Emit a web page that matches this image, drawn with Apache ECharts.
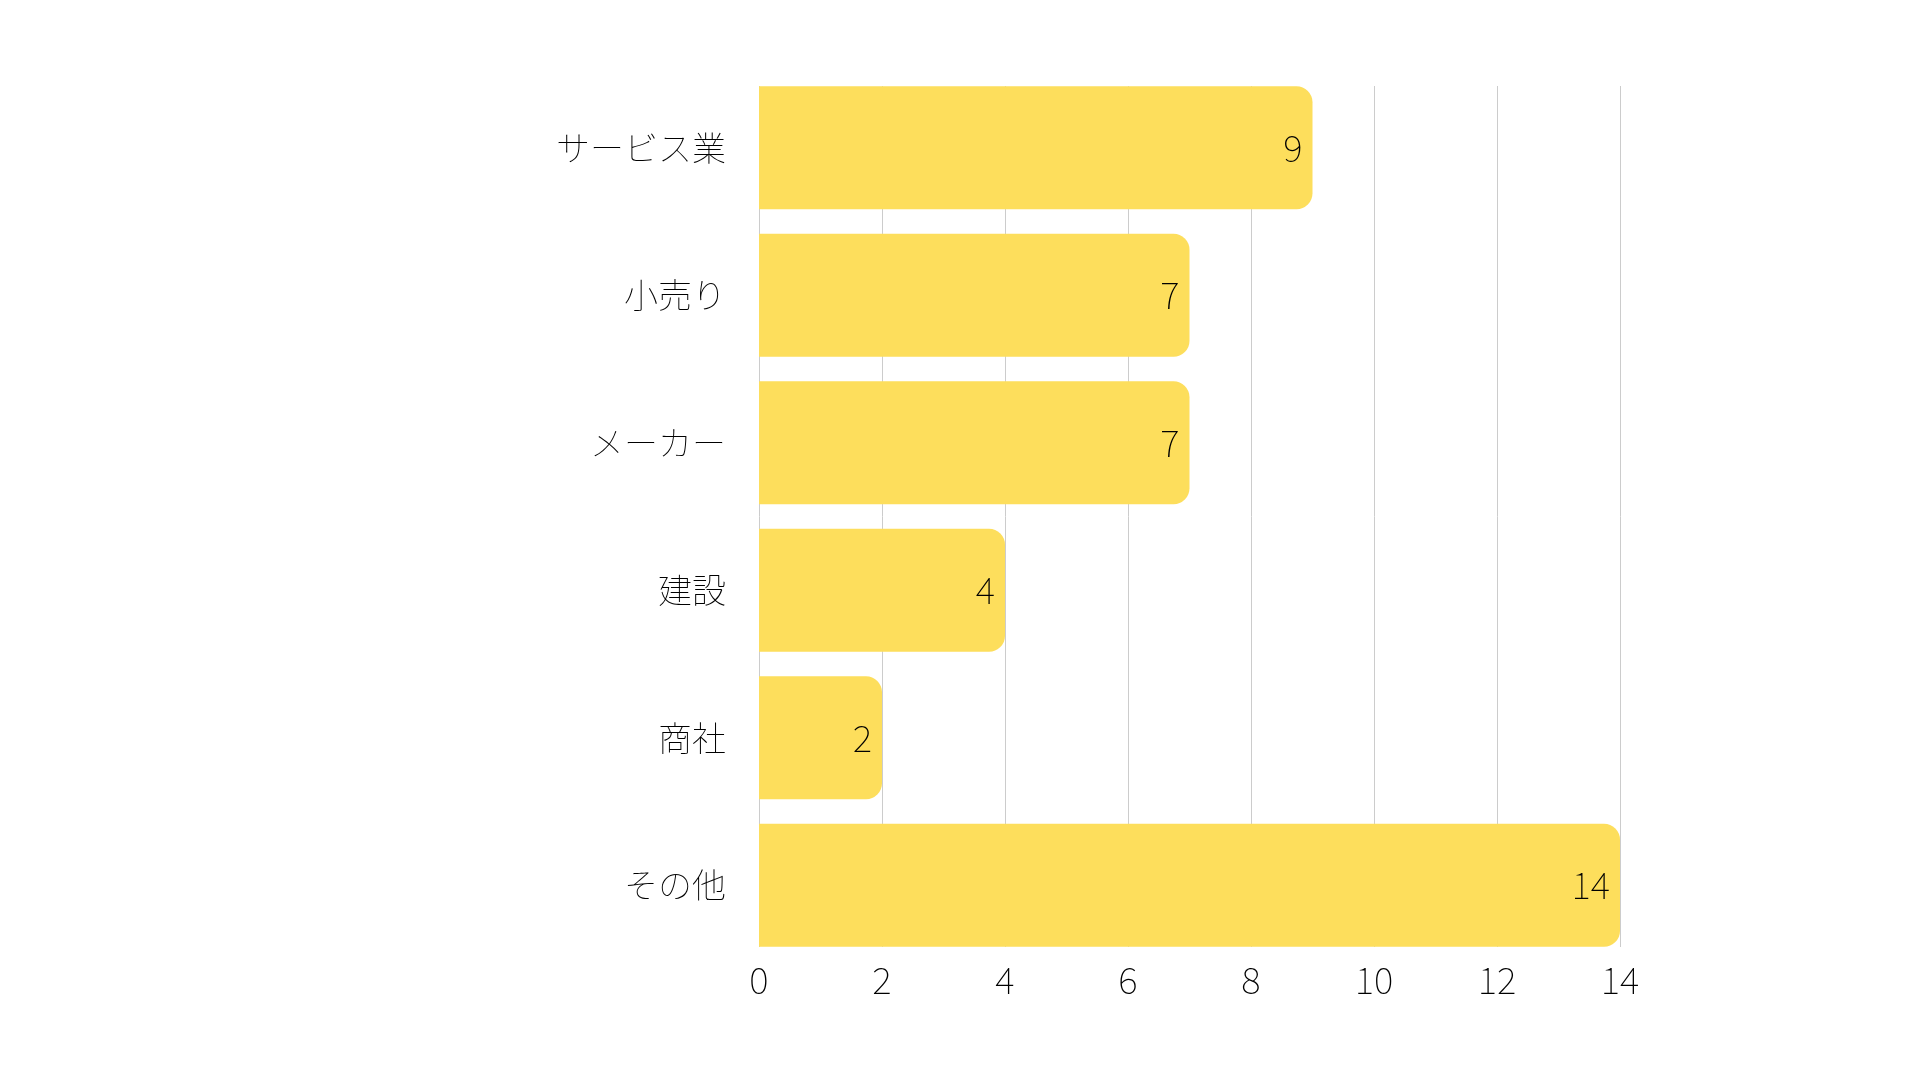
<!DOCTYPE html>
<html><head><meta charset="utf-8">
<script src="https://cdn.jsdelivr.net/npm/echarts@6/dist/echarts.min.js"></script>
<style>html,body{margin:0;padding:0;background:#fff}#c{width:1920px;height:1080px}</style>
</head><body><div id="c"></div>
<script>
const categories = ['サービス業', '小売り', 'メーカー', '建設', '商社', 'その他'];
const values = [9, 7, 7, 4, 2, 14];
const xTicks = [0, 2, 4, 6, 8, 10, 12, 14];

const JP = '"Noto Sans CJK JP", sans-serif';
const chart = echarts.init(document.getElementById('c'));
chart.setOption({
  animation: false,
  backgroundColor: '#ffffff',
  grid: [
    { left: 759, right: 300, top: 86, bottom: 133 },
    { left: 759, right: 300, top: 74, bottom: 121 }
  ],
  xAxis: [{
    gridIndex: 0, type: 'value', min: 0, max: 14, interval: 2,
    axisLine: { show: false }, axisTick: { show: false },
    splitLine: { show: true, lineStyle: { color: '#cccccc', width: 1 } },
    axisLabel: { fontFamily: JP, fontWeight: 100, fontSize: 37, color: '#000', margin: 14,
      formatter: v => xTicks.includes(v) ? String(v) : '' }
  }, {
    gridIndex: 1, type: 'value', min: 0, max: 14, interval: 2, show: false,
    splitLine: { show: false }
  }],
  yAxis: [{
    gridIndex: 0, type: 'category', data: categories, inverse: true, show: false
  }, {
    gridIndex: 1, type: 'category', data: categories, inverse: true,
    axisLine: { show: false }, axisTick: { show: false }, splitLine: { show: false },
    axisLabel: { fontFamily: JP, fontWeight: 100, fontSize: 34, color: '#000', margin: 33 }
  }],
  series: [{
    type: 'bar', xAxisIndex: 1, yAxisIndex: 1, data: values, barCategoryGap: '16.6%',
    itemStyle: { color: '#FDDE5C', borderRadius: [0, 16, 16, 0] },
    label: { show: true, position: 'insideRight', distance: 10, fontFamily: JP, fontWeight: 100, fontSize: 37, color: '#000' }
  }]
});
</script></body></html>
